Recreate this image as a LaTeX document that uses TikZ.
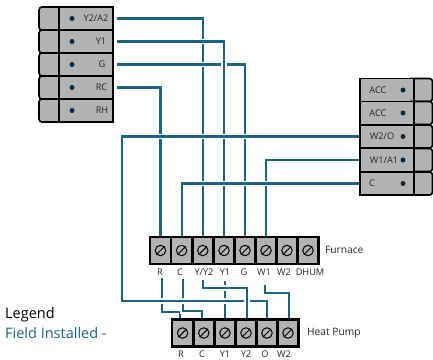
\documentclass[tikz,border=0pt]{standalone}
\usepackage{fontspec}
\setmainfont{Open Sans}
\usetikzlibrary{calc}
\definecolor{wirecol}{HTML}{1A6488}
\definecolor{cellgray}{HTML}{B3B3B3}
\definecolor{dotcol}{HTML}{0B2C40}
\tikzset{
    cellrow/.style={draw=black,line width=1.6pt,fill=cellgray,minimum width=54pt,minimum height=23pt,inner sep=0pt},
    tabcell/.style={draw=black,line width=1.6pt,fill=cellgray,rounded corners=3pt,minimum width=25pt,minimum height=23pt,inner sep=0pt},
    dotmark/.style={circle,fill=dotcol,minimum size=5pt,inner sep=0pt},
    txt/.style={inner sep=0pt,text=black!85,font=\fontsize{9.2}{10}\selectfont},
    unittxt/.style={inner sep=0pt,anchor=west,text=black!85,font=\fontsize{10.2}{12}\selectfont},
    legendtxt/.style={inner sep=0pt,anchor=west,font=\fontsize{14.5}{16}\selectfont},
    screwcell/.style={draw=black,line width=2.4pt,fill=cellgray,minimum width=21pt,minimum height=27pt,inner sep=0pt},
    screw/.style={circle,draw=black,line width=1pt,minimum size=10.5pt,inner sep=0pt},
    wire/.style={wirecol,line width=2.1pt,preaction={draw=white,line width=5.5pt}},
}
\begin{document}
\begin{tikzpicture}[x=1pt,y=-1pt]
    \useasboundingbox (0,0) rectangle (433,359);

    %thermostat left
    \foreach \name/\y/\tx/\txt in {YA/18.5/96/Y2\slash A2,Yo/41.5/101/Y1,Gg/64.5/102/G,RC/87.5/101.5/RC,RH/110.5/102/RH} {
        \node[tabcell] (a\name) at (51.5,\y) {};
        \node[cellrow] (t\name) at (86,\y) {};
        \node[dotmark] (d\name) at (72,\y) {};
        \node[txt] (l\name) at (\tx,\y) {\txt};
    }
    %thermostat right
    \foreach \name/\y/\tx/\txt in {Aa/90/378/ACC,Ab/113/378/ACC,WO/136.5/382/W2\slash O,WA/160/384/W1\slash A1,Cc/183.5/372/C} {
        \node[tabcell] (a\name) at (420,\y) {};
        \node[cellrow] (t\name) at (387,\y) {};
        \node[dotmark] (d\name) at (403,\y) {};
        \node[txt] (l\name) at (\tx,\y) {\txt};
    }
    %furnace
    \foreach \name/\x/\lx/\txt in {R/160.5/160/R,C/181.6/180/C,Y/202.8/204/Y\slash Y2,O/224/225/Y1,G/245/244/G,W/266/264/W1,T/287/284/W2,D/308/310/DHUM} {
        \node[screwcell] (f\name) at (\x,250.5) {};
        \node[screw] (s\name) at (\x,250.5) {};
        \draw[line width=1pt] (s\name.225) -- (s\name.45);
        \node[txt] (m\name) at (\lx,272) {\txt};
    }
    \node[unittxt] (furnace) at (325,250) {Furnace};
    %heat pump
    \foreach \name/\x/\lx/\txt in {R/182.6/181/R,C/203.8/202/C,Y/225/225/Y1,Z/246/246/Y2,O/267/265/O,W/288/284/W2} {
        \node[screwcell] (h\name) at (\x,333) {};
        \node[screw] (k\name) at (\x,333) {};
        \draw[line width=1pt] (k\name.225) -- (k\name.45);
        \node[txt] (n\name) at (\lx,354) {\txt};
    }
    \node[unittxt] (heatpump) at (307,333) {Heat Pump};

    %legend
    \node[legendtxt] (legend) at (5,315) {Legend};
    \node[legendtxt,text=wirecol] (field) at (5,333) {Field Installed -};

    \coordinate (endR) at (162,278);
    \coordinate (endC) at (183,279);
    \coordinate (endY) at (203,280);
    \coordinate (endO) at (225,281);
    \coordinate (endW) at (265,285);
    \coordinate (bendO) at (122,301);

    %wires
    \draw[wire,shorten <=3pt] (tYA.east) -| (fY.north);
    \draw[wire,shorten <=3pt] (tRC.east) -| (fR.north);
    \draw[wire,shorten <=3pt] (tGg.east) -| (fG.north);
    \draw[wire,shorten <=3pt] (tYo.east) -| (fO.north);
    \draw[wire] (tWA.west) -| (fW.north);
    \draw[wire] (tCc.west) -| (fC.north);
    \draw[wire] (endR) -- ++(0,34) -| ([xshift=-2.6pt]hR.north);
    \draw[wire] (endC) -- ++(0,32) -| ([xshift=-1.8pt]hC.north);
    \draw[wire] (endO) -- (hY.north);
    \draw[wire] (tWO.west) -| (bendO) -| (hO.north);
    \draw[wire] (endY) -- ++(0,8) -| ([xshift=1pt]hZ.north);
    \draw[wire] (endW) -- ++(0,8) -| ([xshift=1pt]hW.north);

\end{tikzpicture}
\end{document}
